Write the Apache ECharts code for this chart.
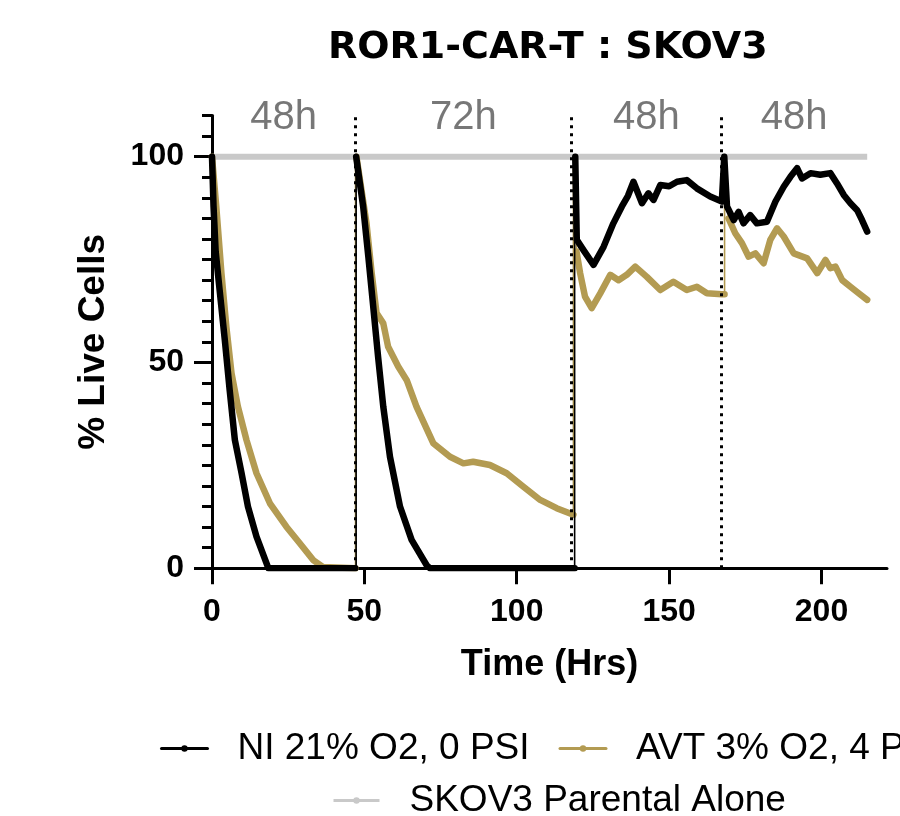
<!DOCTYPE html>
<html><head><meta charset="utf-8">
<script src="https://cdn.jsdelivr.net/npm/echarts@6/dist/echarts.min.js"></script>
<style>html,body{margin:0;padding:0;background:#fff}#c{width:900px;height:816px}</style>
</head><body><div id="c"></div>
<script>
// ---------- data ----------
const chartTitle = 'ROR1-CAR-T : SKOV3';
const seriesNames = ['NI 21% O2, 0 PSI', 'AVT 3% O2, 4 PSI', 'SKOV3 Parental Alone'];
const xTicks = [0, 50, 100, 150, 200];
const yTicks = [0, 50, 100];
const yMinorTicks = [5, 10, 15, 20, 25, 30, 35, 40, 45, 55, 60, 65, 70, 75, 80, 85, 90, 95, 105, 110];
const boundaries = [0, 47, 118, 167, 215];
const intervalLabels = ['48h', '72h', '48h', '48h'];

// NI 21% O2, 0 PSI (black)
const niTime = [0, 0.5, 1.2, 2.5, 4.2, 5.8, 7.5, 9.7, 11.8, 14.6, 17.9, 18.5, 30, 47,
  47.3,
  47.3, 49.6, 51.3, 52.9, 54.5, 56.2, 58.4, 61.7, 65.5, 70.4, 71.5, 95, 119,
  119,
  119.2, 119.7, 121.9, 125.2, 128.5, 131.7, 134.5, 136.5, 138.3, 141.1, 143.2, 144.9, 147.1, 150, 152.6, 155.8, 159.1, 163.5, 167.3,
  168.1, 169, 171.2, 172.8, 174.4, 176.6, 178.8, 182.1, 184.9, 187.6, 189.8, 192, 193.6, 196.4, 199.6, 202.9, 205.1, 207.3, 209.5, 211.7, 213.3, 215];
const niValue = [100, 88, 77, 67.6, 55.5, 43.3, 31.2, 23.1, 15, 7.7, 1.2, 0, 0, 0,
  null,
  100, 87.9, 75.7, 63.6, 51.4, 39.3, 27.1, 15, 6.9, 0.8, 0, 0, 0,
  null,
  100, 79.8, 77.3, 73.7, 78.1, 83.8, 87.9, 90.5, 93.9, 88.7, 91.1, 89.5, 93.1, 92.8, 93.9, 94.3, 92.3, 90.3, 89.1,
  100, 87.9, 84.6, 86.6, 83.8, 85.8, 83.8, 84.2, 89.1, 92.7, 95.1, 97.2, 94.7, 96, 95.6, 96, 93.5, 90.7, 88.7, 87, 84.6, 81.8];
const niJumpTime = [47.3, 47.3, 47.3, 119, 119];
const niJumpValue = [0, 100, null, 0, 100];

// AVT 3% O2, 4 PSI (gold)
const avtTime = [0, 1.4, 3.1, 4.7, 6.4, 8.5, 11.3, 14.6, 19, 24.4, 28.8, 33.2, 36.5, 47.1,
  47.1,
  47.4, 50.7, 52.4, 54, 56.2, 57.8, 61.1, 63.9, 67.1, 72.6, 78.1, 82.5, 85.7, 91.2, 96.7, 102.2, 107.7, 113.1, 118.6,
  118.6,
  119.6, 120.8, 122.4, 124.6, 127.4, 130.7, 133.4, 136.1, 138.9, 142.7, 147.1, 151.4, 155.8, 159.1, 162.4, 167.3, 168.2,
  168.2,
  169.5, 171.7, 173.9, 176.1, 178.3, 181, 183.2, 185.4, 187.6, 190.9, 195.3, 198.6, 201.3, 202.9, 204.6, 206.8, 209.5, 212.2, 215];
const avtValue = [100, 87.9, 71.7, 58.7, 47.4, 39.3, 31.2, 23.1, 15.8, 10.1, 6.1, 2, 0.3, 0,
  null,
  100, 83.8, 71.7, 62, 59.5, 53.8, 49, 45.7, 39.3, 30.4, 27.1, 25.5, 25.9, 25.1, 23.1, 19.8, 16.6, 14.6, 13,
  null,
  77, 71.7, 66, 63.2, 66.8, 71.3, 70, 71.3, 73.3, 70.8, 67.6, 69.6, 67.6, 68.4, 66.8, 66.6, 66.6,
  null,
  85, 81.4, 79, 75.7, 76.5, 74.1, 79.8, 82.6, 80.6, 76.5, 75.3, 71.7, 74.9, 72.9, 73.3, 70, 68.4, 66.8, 65.2];
const avtJumpTime = [47.1, 47.1, 47.1, 118.6, 118.6, 119.6, 119.6, 168.2, 168.2, 169.5];
const avtJumpValue = [0, 100, null, 13, 97, 77, null, 66.6, 96, 85];

// SKOV3 Parental Alone (gray)
const parentalTime = [0, 215];
const parentalValue = [100, 100];

// ---------- build ----------
const pairs = (ts, vs) => ts.map((t, i) => [t, vs[i]]);
const intervalPoints = intervalLabels.map((lab, i) => [(boundaries[i] + boundaries[i + 1]) / 2, 110]);
const dividers = boundaries.slice(1, -1).map(b => ({ xAxis: b }));

const BLACK = '#000000', GOLD = '#b39b52', GRAY = '#c9c9c9';
const sans = "'Liberation Sans', Arial, sans-serif";

const chart = echarts.init(document.getElementById('c'), null, { renderer: 'canvas' });
chart.setOption({
  animation: false,
  backgroundColor: '#ffffff',
  title: {
    text: chartTitle, left: 323, top: 24,
    textStyle: { fontFamily: "'DejaVu Sans', sans-serif", fontWeight: 'bold', fontSize: 38, color: '#000' }
  },
  grid: { left: 212, right: 13, top: 115.5, bottom: 247.7, containLabel: false, outerBoundsMode: 'none' },
  legend: [
    {
      data: [seriesNames[0], seriesNames[1]], left: 155, top: 725, width: 1000, orient: 'horizontal',
      itemWidth: 46, itemHeight: 8, itemGap: 29, selectedMode: false,
      lineStyle: { width: 3 },
      textStyle: { fontFamily: sans, fontSize: 37, color: '#000', padding: [0, 0, 0, 25] }
    },
    {
      data: [seriesNames[2]], left: 327, top: 777, width: 1000,
      itemWidth: 46, itemHeight: 8, itemGap: 29, selectedMode: false,
      lineStyle: { width: 3 },
      textStyle: { fontFamily: sans, fontSize: 37, color: '#000', padding: [0, 0, 0, 25] }
    }
  ],
  xAxis: {
    type: 'value', min: 0, max: 221.5, interval: 50,
    axisLine: { show: true, lineStyle: { color: '#000', width: 3 } },
    axisTick: { show: true, customValues: xTicks, length: 16, lineStyle: { color: '#000', width: 3 } },
    axisLabel: { customValues: xTicks, margin: 28, fontSize: 32, fontWeight: 'bold', color: '#000', fontFamily: sans },
    splitLine: { show: false },
    name: 'Time (Hrs)', nameLocation: 'middle', nameGap: 79,
    nameTextStyle: { fontSize: 36, fontWeight: 'bold', color: '#000', fontFamily: sans }
  },
  yAxis: [
    {
      type: 'value', min: 0, max: 110, interval: 50, position: 'left',
      axisLine: { show: true, lineStyle: { color: '#000', width: 3 } },
      axisTick: { show: true, customValues: yTicks, length: 18, lineStyle: { color: '#000', width: 3 } },
      axisLabel: { customValues: yTicks, margin: 28, fontSize: 32, fontWeight: 'bold', color: '#000', fontFamily: sans },
      splitLine: { show: false },
      name: '% Live Cells', nameLocation: 'middle', nameGap: 100,
      nameTextStyle: { fontSize: 37, fontWeight: 'bold', color: '#000', fontFamily: sans }
    },
    {
      type: 'value', min: 0, max: 110, interval: 50, position: 'left',
      axisLine: { show: false },
      axisTick: { show: true, customValues: yMinorTicks, length: 10, lineStyle: { color: '#000', width: 3 } },
      axisLabel: { show: false },
      splitLine: { show: false }
    }
  ],
  series: [
    {
      name: seriesNames[2], type: 'line', data: pairs(parentalTime, parentalValue), z: 1,
      color: GRAY, symbol: 'circle', showSymbol: false, silent: true,
      lineStyle: { width: 6, color: GRAY }
    },
    {
      name: seriesNames[1], type: 'line', data: pairs(avtTime, avtValue), z: 2, connectNulls: false,
      color: GOLD, symbol: 'circle', showSymbol: false, silent: true,
      lineStyle: { width: 6.5, color: GOLD, join: 'round', cap: 'round' }
    },
    {
      name: 'avt-steps', type: 'line', data: pairs(avtJumpTime, avtJumpValue), z: 2, connectNulls: false,
      color: GOLD, symbol: 'none', showSymbol: false, silent: true,
      lineStyle: { width: 1.6, color: GOLD }
    },
    {
      name: seriesNames[0], type: 'line', data: pairs(niTime, niValue), z: 3, connectNulls: false,
      color: BLACK, symbol: 'circle', showSymbol: false, silent: true,
      lineStyle: { width: 6.5, color: BLACK, join: 'round', cap: 'round' }
    },
    {
      name: 'ni-steps', type: 'line', data: pairs(niJumpTime, niJumpValue), z: 3, connectNulls: false,
      color: BLACK, symbol: 'none', showSymbol: false, silent: true,
      lineStyle: { width: 1.6, color: BLACK }
    },
    {
      name: 'intervals', type: 'scatter', data: intervalPoints, z: 4, silent: true,
      symbolSize: 1, itemStyle: { color: 'transparent' },
      label: {
        show: true, position: 'inside', offset: [0, 2],
        formatter: p => intervalLabels[p.dataIndex],
        fontFamily: sans, fontSize: 40, color: '#555555'
      },
      markLine: {
        silent: true, symbol: ['none', 'none'], label: { show: false },
        lineStyle: { color: '#000', type: [3, 5], width: 3 },
        data: dividers
      }
    }
  ]
});
</script>
</body></html>
